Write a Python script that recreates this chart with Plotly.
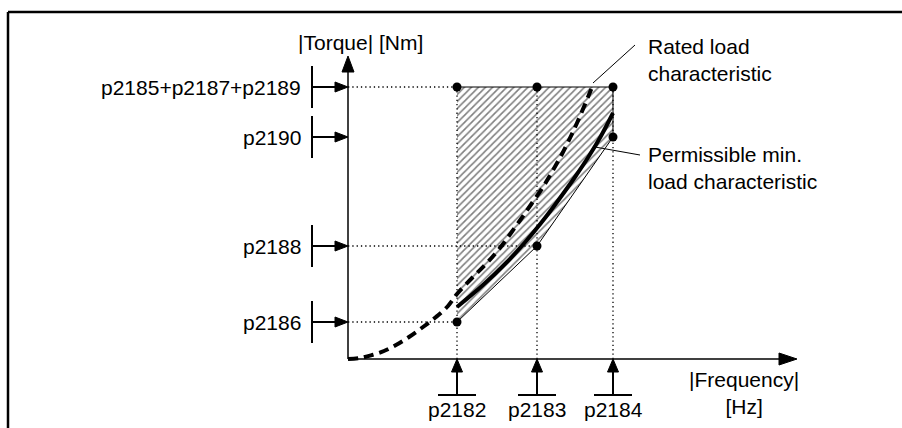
import plotly.graph_objects as go

# ---------------- data (diagram units: frequency -> right, torque -> up) ----------------
freq_labels = ["p2182", "p2183", "p2184"]
freq_points = [109, 189, 265]

torque_labels = ["p2185+p2187+p2189", "p2190", "p2188", "p2186"]
torque_levels = [272, 222, 113, 37]

upper_threshold = [272, 272, 272]   # p2185+p2187+p2189 at p2182/p2183/p2184
lower_threshold = [37, 113, 222]    # p2186, p2188, p2190

rated_freq = [0, 12, 24, 36, 48, 61, 75, 88, 100, 109, 124, 137, 147, 155, 163,
              173, 182, 195, 204, 214, 222, 229, 240, 244]
rated_torque = [0, 1, 4, 8, 14, 22, 32, 42, 53, 65, 81, 94, 105, 115, 126,
                140, 153, 172, 187, 205, 221, 236, 262, 272]

minload_freq = [109, 135, 159, 179, 197, 212, 227, 241, 253, 265]
minload_torque = [52, 74, 97, 119, 141, 161, 182, 203, 223, 246]

# ---------------- layout helpers (page pixels -> axis units) ----------------
OX, OY = 348, 359
W, H = 902, 428


def X(px):
    return px - OX


def Y(py):
    return OY - py


FONT = "Liberation Sans, Arial, sans-serif"
DOT = dict(color="black", width=1.3, dash="1.3px,3px")
fig = go.Figure()

# hatched tolerance band
band_x = freq_points + freq_points[::-1]
band_y = upper_threshold + lower_threshold[::-1]
fig.add_trace(go.Scatter(
    x=band_x, y=band_y, fill="toself", mode="none",
    fillcolor="rgba(0,0,0,0)",
    fillpattern=dict(shape="/", size=5, solidity=0.32, fgcolor="black", bgcolor="white"),
    hoverinfo="skip", showlegend=False))

# band outline (top, right side and lower polyline)
fig.add_trace(go.Scatter(
    x=[freq_points[0], freq_points[-1], freq_points[-1]] + freq_points[-2::-1],
    y=[upper_threshold[0], upper_threshold[-1], lower_threshold[-1]] + lower_threshold[-2::-1],
    mode="lines", line=dict(color="black", width=1), hoverinfo="skip", showlegend=False))

# dotted guide lines
for f, up in zip(freq_points, upper_threshold):
    fig.add_trace(go.Scatter(x=[f, f], y=[0, up], mode="lines", line=DOT,
                             hoverinfo="skip", showlegend=False))
guide_h = [(upper_threshold[0], freq_points[0]),
           (lower_threshold[0], freq_points[0]),
           (lower_threshold[1], freq_points[1])]
for lvl, f in guide_h:
    fig.add_trace(go.Scatter(x=[0, f], y=[lvl, lvl], mode="lines", line=DOT,
                             hoverinfo="skip", showlegend=False))

# rated load characteristic (dashed)
fig.add_trace(go.Scatter(x=rated_freq, y=rated_torque, mode="lines",
                         line=dict(color="black", width=4, dash="10px,6px", shape="spline"),
                         hoverinfo="skip", showlegend=False))

# permissible min. load characteristic (bold)
fig.add_trace(go.Scatter(x=minload_freq, y=minload_torque, mode="lines",
                         line=dict(color="black", width=4, shape="spline"),
                         hoverinfo="skip", showlegend=False))

# threshold points
fig.add_trace(go.Scatter(x=freq_points + freq_points, y=upper_threshold + lower_threshold,
                         mode="markers", marker=dict(color="black", size=9),
                         hoverinfo="skip", showlegend=False))

shapes = []
BL = dict(color="black", width=1.5)

# frame
shapes.append(dict(type="line", xref="x", yref="y", x0=X(8), y0=Y(12), x1=X(905), y1=Y(12),
                   line=dict(color="black", width=2.5)))
shapes.append(dict(type="line", xref="x", yref="y", x0=X(8), y0=Y(12), x1=X(8), y1=Y(432),
                   line=dict(color="black", width=2.5)))

# axes
shapes.append(dict(type="line", xref="x", yref="y", x0=0, y0=0, x1=0, y1=Y(70), line=BL))
shapes.append(dict(type="path", xref="x", yref="y",
                   path=f"M {-6},{Y(72)} L 0,{Y(56)} L 6,{Y(72)} Z",
                   fillcolor="black", line=dict(color="black", width=1)))
shapes.append(dict(type="line", xref="x", yref="y", x0=0, y0=0, x1=X(782), y1=0, line=BL))
shapes.append(dict(type="path", xref="x", yref="y",
                   path=f"M {X(779)},6 L {X(797)},0 L {X(779)},-6 Z",
                   fillcolor="black", line=dict(color="black", width=1)))

# torque parameter markers
for lvl in torque_levels:
    shapes.append(dict(type="line", xref="x", yref="y", x0=X(312), y0=lvl - 21, x1=X(312), y1=lvl + 21,
                       line=dict(color="black", width=2)))
    shapes.append(dict(type="line", xref="x", yref="y", x0=X(312), y0=lvl, x1=X(337), y1=lvl,
                       line=dict(color="black", width=2)))
    shapes.append(dict(type="path", xref="x", yref="y",
                       path=f"M {X(335)},{lvl + 5} L 0,{lvl} L {X(335)},{lvl - 5} Z",
                       fillcolor="black", line=dict(color="black", width=1)))

# frequency parameter markers
for f in freq_points:
    shapes.append(dict(type="line", xref="x", yref="y", x0=f - 19, y0=Y(395), x1=f + 19, y1=Y(395),
                       line=dict(color="black", width=2)))
    shapes.append(dict(type="line", xref="x", yref="y", x0=f, y0=Y(395), x1=f, y1=Y(370),
                       line=dict(color="black", width=2)))
    shapes.append(dict(type="path", xref="x", yref="y",
                       path=f"M {f - 5.5},{Y(372)} L {f},0 L {f + 5.5},{Y(372)} Z",
                       fillcolor="black", line=dict(color="black", width=1)))

# leader lines
shapes.append(dict(type="line", xref="x", yref="y", x0=X(593), y0=Y(83), x1=X(635), y1=Y(45),
                   line=dict(color="black", width=1)))
shapes.append(dict(type="line", xref="x", yref="y", x0=X(595), y0=Y(147), x1=X(640), y1=Y(155),
                   line=dict(color="black", width=1)))

annotations = []
TF = dict(family=FONT, size=21, color="black")
for lab, lvl in zip(torque_labels, torque_levels):
    annotations.append(dict(x=X(303), y=lvl, text=lab, showarrow=False, xanchor="right",
                            yanchor="middle", font=TF, xref="x", yref="y"))
for lab, f in zip(freq_labels, freq_points):
    annotations.append(dict(x=f, y=Y(409), text=lab, showarrow=False, xanchor="center",
                            yanchor="middle", font=TF, xref="x", yref="y"))
annotations.append(dict(x=X(360), y=Y(42), text="|Torque| [Nm]", showarrow=False,
                        xanchor="center", yanchor="middle", font=TF, xref="x", yref="y"))
annotations.append(dict(x=X(744), y=Y(393), text="|Frequency|<br>[Hz]", showarrow=False,
                        xanchor="center", yanchor="middle", align="center", font=TF,
                        xref="x", yref="y"))
annotations.append(dict(x=X(646), y=Y(60), text="Rated load<br>characteristic", showarrow=False,
                        xanchor="left", yanchor="middle", align="left", font=TF,
                        xref="x", yref="y"))
annotations.append(dict(x=X(646), y=Y(168), text="Permissible min.<br>load characteristic",
                        showarrow=False, xanchor="left", yanchor="middle", align="left", font=TF,
                        xref="x", yref="y"))

fig.update_layout(
    width=W, height=H,
    margin=dict(l=0, r=0, t=0, b=0, pad=0),
    paper_bgcolor="white", plot_bgcolor="white",
    xaxis=dict(range=[-OX, W - OX], visible=False, fixedrange=True),
    yaxis=dict(range=[OY - H, OY], visible=False, fixedrange=True),
    shapes=shapes, annotations=annotations,
    showlegend=False,
)

fig.write_html("out.html", config={"displayModeBar": False},
               post_script="document.body.style.margin='0';")
